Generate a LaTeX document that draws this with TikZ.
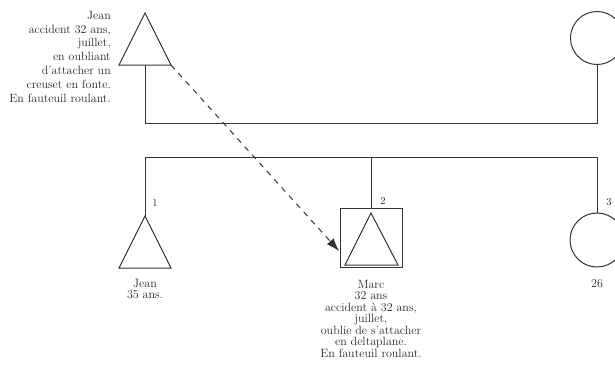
\documentclass[tikz,border=0pt]{standalone}
\usetikzlibrary{arrows.meta}
\begin{document}
\begin{tikzpicture}[x=1pt,y=-1pt,
  ln/.style={draw=black!80,line width=1pt},
  lbl/.style={inner sep=0pt,font=\fontsize{12}{11.5}\selectfont,text=black!85},
  num/.style={inner sep=0pt,font=\fontsize{10.5}{12}\selectfont,text=black!85}]
\useasboundingbox (0,0) rectangle (615,372);
\clip (0,0) rectangle (615,372);
% father
\coordinate (fa) at (145,13);
\coordinate (fb) at (145,65);
\coordinate (fr) at (171,65);
\draw[ln,line join=miter] (fa) -- (fr) -- (119,65) -- cycle;
\node[lbl,anchor=north east,align=right,font=\fontsize{12}{13.8}\selectfont] (ftxt) at (111,11)
  {Jean\\accident 32 ans,\\juillet,\\en oubliant\\d'attacher un\\creuset en fonte.\\En fauteuil roulant.};
% mother
\node[ln,circle,minimum size=53pt,inner sep=0pt] (mo) at (597,38) {};
% marriage line
\coordinate (mL) at (145,123);
\coordinate (mR) at (597,123);
\draw[ln] (fb) -- (mL) -- (mR) -- (mo.south);
% sibship line
\coordinate (sL) at (145,157);
\coordinate (sM) at (371,157);
\coordinate (sR) at (597,157);
\draw[ln] (sL) -- (sR);
% child 1
\coordinate (c1a) at (145,216);
\draw[ln,line join=miter] (c1a) -- (171,268) -- (119,268) -- cycle;
\draw[ln] (sL) -- (c1a);
\node[num] (n1) at (155,203) {1};
\node[lbl,anchor=north,align=center] (c1t) at (145,279) {Jean\\35 ans.};
% child 2
\node[ln,rectangle,minimum width=62pt,minimum height=59pt,inner sep=0pt] (c2) at (371,237.5) {};
\draw[ln,line join=miter] (371,213) -- (398,265) -- (345,265) -- cycle;
\draw[ln] (sM) -- (c2.north);
\node[num] (n2) at (383,201) {2};
\node[lbl,anchor=north,align=center] (c2t) at (371,280)
  {Marc\\32 ans\\accident \`a 32 ans,\\juillet,\\oublie de s'attacher\\en deltaplane.\\En fauteuil roulant.};
\coordinate (c2in) at (339,251);
% child 3
\node[ln,circle,minimum size=54pt,inner sep=0pt] (c3) at (597,240) {};
\draw[ln] (sR) -- (c3.north);
\node[num] (n3) at (609,202) {3};
\node[lbl] (c3t) at (597,284) {26};
% dashed arrow
\draw[ln,dash pattern=on 5.5pt off 5.5pt,-{Latex[length=13pt,width=9pt]}] (fr) -- (c2in);
\end{tikzpicture}
\end{document}
